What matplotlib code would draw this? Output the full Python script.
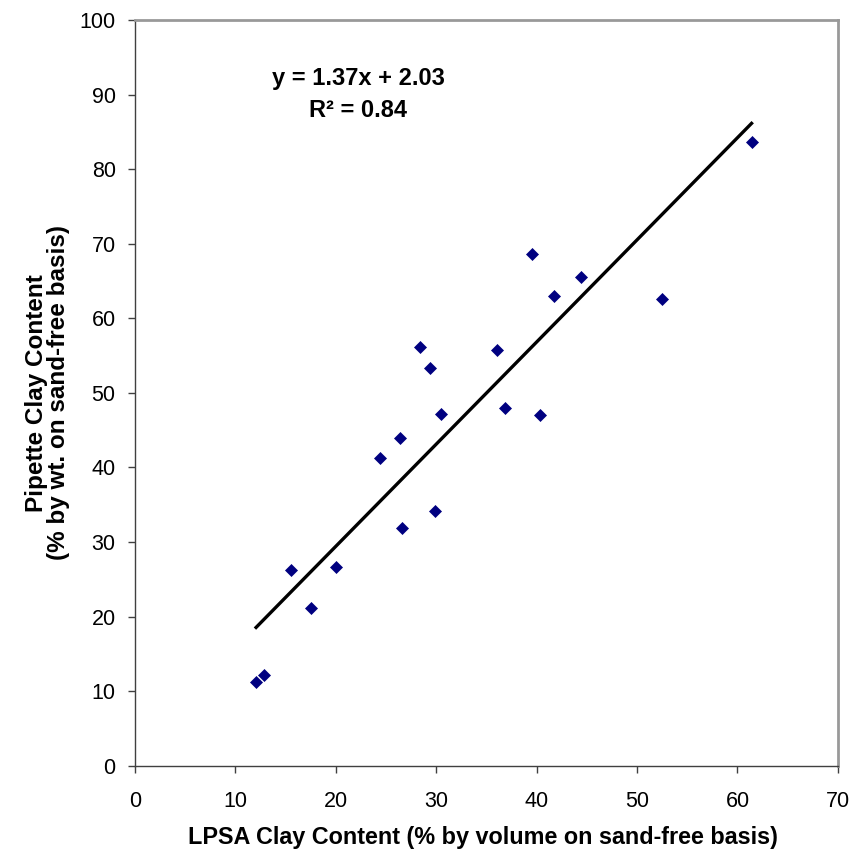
import numpy as np
import matplotlib
matplotlib.use('Agg')
import matplotlib.pyplot as plt

plt.rcParams['font.family'] = ['Liberation Sans', 'DejaVu Sans']

# LPSA vs pipette clay content
lpsa_clay = [12.05, 12.8, 15.5, 17.5, 20.0, 24.4, 26.4, 26.6, 28.4, 29.4,
             29.85, 30.5, 36.0, 36.8, 39.5, 40.3, 41.7, 44.4, 52.5, 61.4]
pipette_clay = [11.2, 12.2, 26.3, 21.2, 26.6, 41.3, 44.0, 31.9, 56.1, 53.3,
                34.1, 47.1, 55.7, 48.0, 68.6, 47.0, 63.0, 65.5, 62.6, 83.7]

slope = 1.37
intercept = 2.03
r_squared = 0.84

x = np.array(lpsa_clay)
y = np.array(pipette_clay)

fig = plt.figure(figsize=(8.55, 8.55), dpi=100)
ax = fig.add_axes([0.158, 0.1045, 0.822, 0.872])

# trendline
x_fit = np.array([x.min(), x.max()])
ax.plot(x_fit, slope * x_fit + intercept, color='black', linewidth=2.4, zorder=2)

ax.plot(x, y, linestyle='none', marker='D', markersize=6,
        color='#000080', markeredgewidth=0.5, zorder=3)

ax.set_xlim(0, 70)
ax.set_ylim(0, 100)
ax.set_xticks(np.arange(0, 71, 10))
ax.set_yticks(np.arange(0, 101, 10))

for side in ['left', 'bottom']:
    ax.spines[side].set_color('#404040')
    ax.spines[side].set_linewidth(1.0)
for side in ['top', 'right']:
    ax.spines[side].set_color('#999999')
    ax.spines[side].set_linewidth(2.0)

ax.tick_params(axis='both', direction='out', length=5, width=1,
               color='#404040', labelsize=15.5)
ax.tick_params(axis='x', pad=13)
ax.tick_params(axis='y', pad=9)

ax.set_xlabel('LPSA Clay Content (% by volume on sand-free basis)',
              fontsize=16.8, fontweight='bold', labelpad=10)
ax.set_ylabel('Pipette Clay Content\n(% by wt. on sand-free basis)',
              fontsize=17.5, fontweight='bold', labelpad=7, linespacing=0.95)
ax.xaxis.label.set_x(0.495)

ax.text(22.2, 92.2, f'y = {slope:.2f}x + {intercept:.2f}', ha='center',
        va='center', fontsize=17, fontweight='bold')
ax.text(22.2, 87.9, f'R\u00b2 = {r_squared:.2f}', ha='center',
        va='center', fontsize=17, fontweight='bold')

plt.savefig('out.png', dpi=100, facecolor='white')
